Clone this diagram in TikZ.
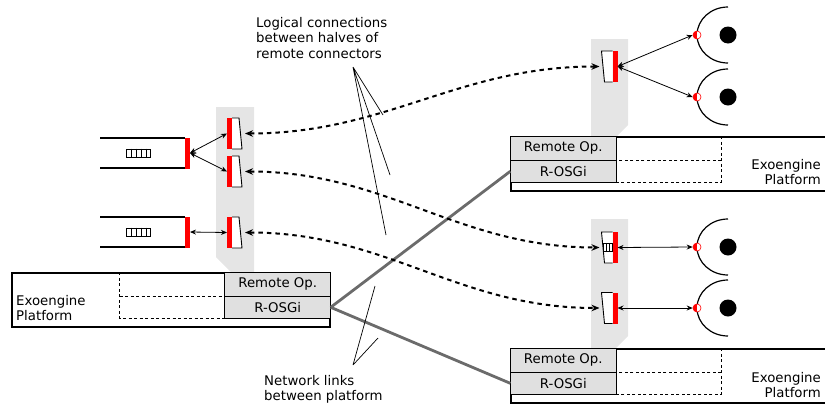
\documentclass[tikz,border=0pt]{standalone}
\usepackage{fontspec}
\setmainfont{DejaVu Sans}
\usetikzlibrary{calc,positioning,arrows.meta}

\tikzset{
  platform/.style={draw, line width=1.4pt, minimum width=#1, minimum height=54pt, inner sep=0pt},
  opcell/.style={draw, fill=black!12, line width=1pt, minimum width=106pt, inner sep=0pt, outer sep=0pt},
  dashline/.style={line width=0.8pt, dash pattern=on 3pt off 2.5pt},
  bundle/.style={fill=black!10},
  client/.style={minimum width=85pt, minimum height=30pt, inner sep=0pt, outer sep=0pt},
  redbar/.style={fill=red, minimum width=5pt, minimum height=31pt, inner sep=0pt, outer sep=0pt},
  half/.style={draw, fill=white, line width=0.9pt},
  slot/.style={draw, fill=white, line width=0.6pt, minimum width=#1, minimum height=8pt, inner sep=0pt},
  link/.style={{Stealth[length=6pt,width=5pt]}-{Stealth[length=6pt,width=5pt]}, line width=0.8pt},
  logic/.style={{Stealth[length=8pt,width=6.5pt]}-{Stealth[length=8pt,width=6.5pt]}, line width=2pt, dash pattern=on 4.5pt off 4pt},
  netlink/.style={line width=2.8pt, black!58},
  socket/.style={line width=1.2pt},
  ball/.style={circle, fill=black, minimum size=17pt, inner sep=0pt},
  plug/.style={circle, draw=red, fill=white, line width=0.6pt, minimum size=8pt, inner sep=0pt,
    path picture={\fill[red] (path picture bounding box.north west) rectangle (path picture bounding box.south);}},
  note/.style={line width=0.7pt},
  txt/.style={align=#1, inner sep=0pt}
}

\begin{document}
\begin{tikzpicture}[x=1pt, y=-1pt, font=\fontsize{13.3pt}{15.4pt}\selectfont]
  \clip (0,0) rectangle (825,405);

  \fill[bundle] (216,107) -- (254,107) -- (254,273) -- (232,273) -- (216,257) -- cycle;
  \fill[bundle] (591,39) -- (628,39) -- (628,125) -- (616,137) -- (591,137) -- cycle;
  \fill[bundle] (591,219) -- (628,219) -- (628,336) -- (615,349) -- (591,349) -- cycle;

  % platforms
  \node[platform=318pt] (lplat) at (171,300) {};
  \node[opcell, minimum height=24pt, anchor=north east] (lremop) at (lplat.north east) {Remote Op.};
  \node[opcell, minimum height=22pt, below=0pt of lremop] (lrosgi) {R-OSGi};
  \draw[dashline] ($(lremop.north west)+(-105,0)$) |- (lrosgi.south west)
    ($(lremop.south west)+(-105,0)$) -- (lremop.south west);
  \node[txt=left, anchor=north west] (lname) at (16,295) {Exoengine\\Platform};

  \node[platform=317pt] (tplat) at (669.5,164) {};
  \node[opcell, minimum height=24pt, anchor=north west] (tremop) at (tplat.north west) {Remote Op.};
  \node[opcell, minimum height=22pt, below=0pt of tremop] (trosgi) {R-OSGi};
  \draw[dashline] ($(tremop.north east)+(105,0)$) |- (trosgi.south east)
    ($(tremop.south east)+(105,0)$) -- (tremop.south east);
  \node[txt=right, anchor=north east] (tname) at (821,159) {Exoengine\\Platform};

  \node[platform=317pt] (bplat) at (669.5,376) {};
  \node[opcell, minimum height=24pt, anchor=north west] (bremop) at (bplat.north west) {Remote Op.};
  \node[opcell, minimum height=22pt, below=0pt of bremop] (brosgi) {R-OSGi};
  \draw[dashline] ($(bremop.north east)+(105,0)$) |- (brosgi.south east)
    ($(bremop.south east)+(105,0)$) -- (bremop.south east);
  \node[txt=right, anchor=north east] (bname) at (821,372) {Exoengine\\Platform};

  % clients
  \node[client] (cl1) at (142.5,153) {};
  \node[redbar, right=0pt of cl1] (cl1r) {};
  \draw[line width=1.3pt] (cl1.north west) -- (cl1.north east) (cl1.south west) -- (cl1.south east);
  \node[slot=24pt, xshift=-4pt] (slot1) at (cl1) {};

  \node[client] (cl2) at (142.5,232) {};
  \node[redbar, right=0pt of cl2] (cl2r) {};
  \draw[line width=1.3pt] (cl2.north west) -- (cl2.north east) (cl2.south west) -- (cl2.south east);
  \node[slot=24pt, xshift=-4pt] (slot2) at (cl2) {};

  \foreach \n in {1,2}
    \foreach \k in {1,...,4}
      \draw[line width=0.6pt] ($(slot\n.north west)!\k/5!(slot\n.north east)$) -- ($(slot\n.south west)!\k/5!(slot\n.south east)$);

  % connector halves
  \foreach \n/\y in {1/133.5,2/171.5,3/232.5} {
    \node[redbar] (lh\n) at (229.5,\y) {};
    \draw[half] (lh\n.north east) -- ++(7,0) -- ($(lh\n.south east)+(10,0)$) -- (lh\n.south east);
  }
  \foreach \n/\y in {1/66.5,2/247.5,3/308} {
    \node[redbar] (rh\n) at (615,\y) {};
    \draw[half] (rh\n.north west) -- ++(-11,0) -- ($(rh\n.south west)+(-8,0)$) -- (rh\n.south west);
  }
  \node[slot=9pt] (chip) at ($(rh2.west)+(-5,0)$) {};
  \foreach \k in {1,2}
    \draw[line width=0.6pt] ($(chip.north west)!\k/3!(chip.north east)$) -- ($(chip.south west)!\k/3!(chip.south east)$);

  % services
  \foreach \n/\y in {1/35,2/97,3/247,4/308} {
    \draw[socket] (728,\y-28) arc[start angle=270, end angle=90, x radius=31, y radius=28];
    \node[ball] (ball\n) at (728,\y) {};
    \node[plug] (s\n) at (697,\y) {};
  }

  \draw[link] (cl1r.east) -- (lh1.west);
  \draw[link] (cl1r.east) -- (lh2.west);
  \draw[link] (cl2r.east) -- (lh3.west);
  \draw[link] (rh1.east) -- (s1.west);
  \draw[link] (rh1.east) -- (s2.west);
  \draw[link] (rh2.east) -- (s3.west);
  \draw[link] (rh3.east) -- (s4.west);

  \draw[netlink] (lrosgi.east) -- (trosgi.west);
  \draw[netlink] (lrosgi.east) -- (brosgi.west);

  \draw[logic] ($(lh1.east)+(13,0)$) to[out=0, in=180] ($(rh1.west)+(-13,0)$);
  \draw[logic] ($(lh2.east)+(13,0)$) to[out=0, in=180] ($(rh2.west)+(-13,0)$);
  \draw[logic] ($(lh3.east)+(13,0)$) to[out=0, in=180] ($(rh3.west)+(-13,0)$);

  % annotations
  \node[txt=left, anchor=north west] (logiclabel) at (256,17) {Logical connections\\between halves of\\remote connectors};
  \coordinate (logictip) at (353,67);
  \coordinate (lt1) at (383,115);
  \coordinate (lt2) at (390,175);
  \coordinate (lt3) at (386,235);
  \draw[note] (logictip) -- (lt1) (logictip) -- (lt2) (logictip) -- (lt3);

  \node[txt=left, anchor=north west] (netlabel) at (264,375) {Network links\\between platform};
  \coordinate (nettip) at (353,365);
  \coordinate (nt1) at (375,286);
  \coordinate (nt2) at (378,338);
  \draw[note] (nettip) -- (nt1) (nettip) -- (nt2);
\end{tikzpicture}
\end{document}
